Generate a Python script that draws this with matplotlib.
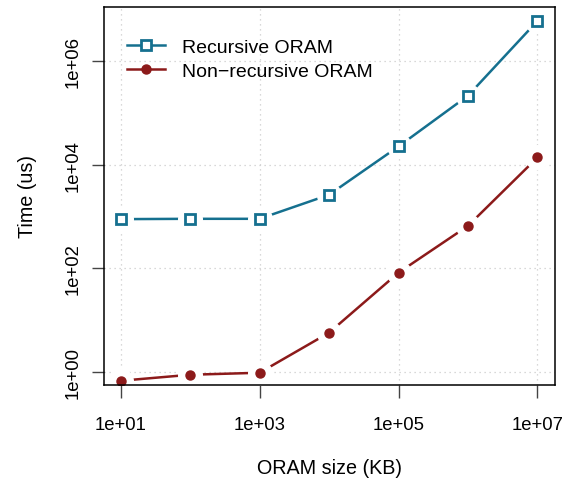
import matplotlib
matplotlib.use('Agg')
import matplotlib.pyplot as plt
from matplotlib.lines import Line2D

plt.rcParams['font.family'] = ['Liberation Sans', 'DejaVu Sans']

# ORAM size (KB)
oramSize = [1e1, 1e2, 1e3, 1e4, 1e5, 1e6, 1e7]
# time (us)
recursiveTime = [887, 900, 900, 2620, 22500, 215000, 5.98e6]
nonRecursiveTime = [0.67, 0.875, 0.957, 5.68, 82, 658, 13770]

xTicks = [1e1, 1e3, 1e5, 1e7]
xTickLabels = ['1e+01', '1e+03', '1e+05', '1e+07']
yTicks = [1e0, 1e2, 1e4, 1e6]
yTickLabels = ['1e+00', '1e+02', '1e+04', '1e+06']

blue = '#15708f'
red = '#8c1a1a'

fig = plt.figure(figsize=(5.65, 4.85), dpi=100)
ax = fig.add_axes([0.184, 0.204, 0.798, 0.78])
ax.set_xscale('log')
ax.set_yscale('log')

# R type="b": line with gaps around the points
ax.plot(oramSize, recursiveTime, color=blue, lw=1.8, zorder=2)
ax.plot(oramSize, recursiveTime, ls='none', marker='o', ms=17, mfc='white', mec='white', zorder=3)
ax.plot(oramSize, recursiveTime, ls='none', marker='s', ms=6.5, mfc='white', mec=blue, mew=2, zorder=4)

ax.plot(oramSize, nonRecursiveTime, color=red, lw=1.8, zorder=2)
ax.plot(oramSize, nonRecursiveTime, ls='none', marker='o', ms=17, mfc='white', mec='white', zorder=3)
ax.plot(oramSize, nonRecursiveTime, ls='none', marker='o', ms=6.5, mfc=red, mec=red, zorder=4)

ax.set_xlim(10 ** 0.76, 10 ** 7.25)
ax.set_ylim(10 ** -0.257, 10 ** 7.05)

ax.set_xticks(xTicks)
ax.set_xticklabels(xTickLabels)
ax.set_yticks(yTicks)
ax.set_yticklabels(yTickLabels, rotation=90, va='center')
ax.minorticks_off()
ax.tick_params(axis='both', direction='out', length=9, width=1, color='#444444', labelsize=13.3)
ax.tick_params(axis='x', pad=13)
ax.tick_params(axis='y', pad=7)

ax.grid(True, which='major', ls=(0, (1, 3)), color='#cccccc', lw=0.9)
ax.set_axisbelow(True)
for s in ax.spines.values():
    s.set_linewidth(1.1)
    s.set_zorder(5)

ax.set_xlabel('ORAM size (KB)', fontsize=14.2, labelpad=18)
ax.set_ylabel('Time (us)', fontsize=14.2, labelpad=20)

handles = [
    Line2D([0], [0], color=blue, lw=1.8, marker='s', ms=6.5, mfc='white', mec=blue, mew=2),
    Line2D([0], [0], color=red, lw=1.8, marker='o', ms=6.5, mfc=red, mec=red),
]
ax.legend(handles, ['Recursive ORAM', 'Non\u2212recursive ORAM'], loc='upper left',
          bbox_to_anchor=(0.012, 0.962), frameon=False, fontsize=14,
          handlelength=1.95, handletextpad=0.87, labelspacing=0.3)

fig.savefig('out.png', dpi=100)
